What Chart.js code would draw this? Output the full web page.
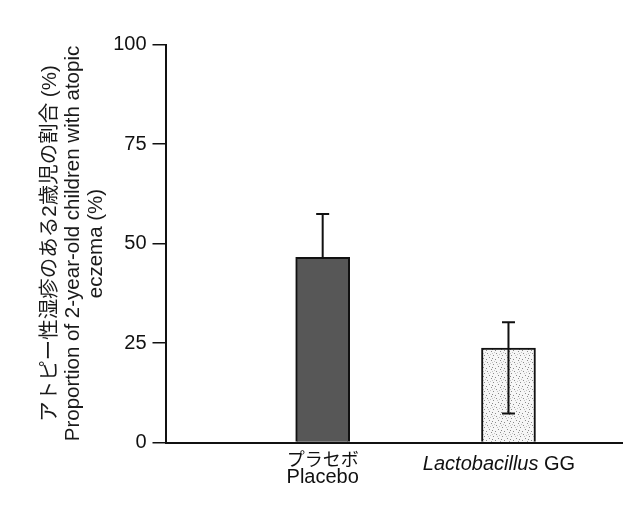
<!DOCTYPE html>
<html>
<head>
<meta charset="utf-8">
<script src="https://cdn.jsdelivr.net/npm/chart.js@4"></script>
<style>
  html, body { margin: 0; padding: 0; background: #fff; }
  #wrap { width: 633px; height: 514px; }
</style>
</head>
<body>
<div id="wrap"><canvas id="myChart" width="633" height="514"></canvas></div>
<script>
// data
const categories = ['Placebo', 'Lactobacillus GG'];
const categoriesJa = ['プラセボ', ''];
const xPos = [1, 2];
const values = [46.5, 23.7];
const errHigh = [57.4, 30.2];
const errLow = [null, 7.3];
const yTicks = [0, 25, 50, 75, 100];
const yTitle = [
  'アトピー性湿疹のある2歳児の割合 (%)',
  'Proportion of 2-year-old children with atopic',
  'eczema (%)'
];

const FONT = '"Liberation Sans", Arial, "Noto Sans CJK JP", sans-serif';

// speckled light fill for the second bar
function speckle() {
  const c = document.createElement('canvas');
  c.width = 9; c.height = 9;
  const g = c.getContext('2d');
  g.fillStyle = '#f6f6f6';
  g.fillRect(0, 0, 9, 9);
  g.fillStyle = '#8a8a8a';
  [[1, 2], [5, 0], [7, 4], [3, 6], [0, 8], [6, 7]].forEach(p => g.fillRect(p[0], p[1], 1, 1));
  g.fillStyle = '#c4c4c4';
  [[4, 3], [8, 1], [2, 4], [6, 2]].forEach(p => g.fillRect(p[0], p[1], 1, 1));
  return g.createPattern(c, 'repeat');
}

/********** error bars **********/
const errorBars = {
  id: 'errorBars',
  afterDatasetsDraw(chart) {
    const { ctx, scales: { x, y } } = chart;
    ctx.save();
    ctx.strokeStyle = '#111';
    ctx.lineWidth = 2;
    for (let i = 0; i < values.length; i++) {
      const px = x.getPixelForValue(xPos[i]);
      const top = y.getPixelForValue(errHigh[i]);
      const bot = y.getPixelForValue(errLow[i] == null ? values[i] : errLow[i]);
      ctx.beginPath();
      ctx.moveTo(px, top); ctx.lineTo(px, bot);
      ctx.moveTo(px - 6.5, top); ctx.lineTo(px + 6.5, top);
      if (errLow[i] != null) {
        ctx.moveTo(px - 6.5, bot); ctx.lineTo(px + 6.5, bot);
      }
      ctx.stroke();
    }
    ctx.restore();
  }
};

/********** category labels (mixed italic) **********/
const catLabels = {
  id: 'catLabels',
  afterDraw(chart) {
    const { ctx, scales: { x } } = chart;
    ctx.save();
    ctx.fillStyle = '#111';
    ctx.textBaseline = 'alphabetic';

    // Placebo: Japanese over English
    let px = x.getPixelForValue(xPos[0]);
    ctx.textAlign = 'center';
    ctx.font = '18px ' + FONT;
    ctx.fillText(categoriesJa[0], px, 466);
    ctx.font = '20px ' + FONT;
    ctx.fillText(categories[0], px, 483);

    // Lactobacillus GG: genus in italic
    px = x.getPixelForValue(xPos[1]);
    const parts = categories[1].split(' ');
    ctx.font = 'italic 20px ' + FONT;
    const w1 = ctx.measureText(parts[0] + ' ').width;
    ctx.font = '20px ' + FONT;
    const w2 = ctx.measureText(parts[1]).width;
    let left = px - 9.5 - (w1 + w2) / 2;
    ctx.textAlign = 'left';
    ctx.font = 'italic 20px ' + FONT;
    ctx.fillText(parts[0] + ' ', left, 470);
    ctx.font = '20px ' + FONT;
    ctx.fillText(parts[1], left + w1, 470);
    ctx.restore();
  }
};

const ctx = document.getElementById('myChart').getContext('2d');
const chart = new Chart(ctx, {
  type: 'bar',
  data: {
    datasets: [{
      data: xPos.map((p, i) => ({ x: p, y: values[i] })),
      backgroundColor: ['#575757', speckle()],
      borderColor: '#111',
      borderWidth: 2,
      borderSkipped: 'bottom',
      barThickness: 54
    }]
  },
  options: {
    responsive: false,
    animation: false,
    devicePixelRatio: 1,
    layout: { padding: { left: 38.5, top: 44.5, right: 11, bottom: 71.5 } },
    plugins: { legend: { display: false }, tooltip: { enabled: false } },
    scales: {
      x: {
        type: 'linear',
        offset: false,
        min: 0.154,
        max: 2.611,
        grid: { display: false },
        ticks: { display: false },
        border: { display: true, color: '#111', width: 2 },
        afterFit: s => { s.height = 0; }
      },
      y: {
        min: 0,
        max: 100,
        afterBuildTicks: s => { s.ticks = yTicks.map(v => ({ value: v })); },
        grid: { display: true, drawOnChartArea: false, drawTicks: true, tickLength: 13, color: '#111', lineWidth: 1.5 },
        border: { display: true, color: '#111', width: 2 },
        ticks: { color: '#111', padding: 6, font: { family: FONT, size: 20 } },
        title: {
          display: true,
          text: yTitle,
          color: '#1a1a1a',
          padding: { top: 0, bottom: 0 },
          font: { family: FONT, size: 20.5, lineHeight: 1.12 }
        },
        afterFit: s => { s.width = 127; }
      }
    }
  },
  plugins: [errorBars, catLabels]
});
</script>
</body>
</html>
